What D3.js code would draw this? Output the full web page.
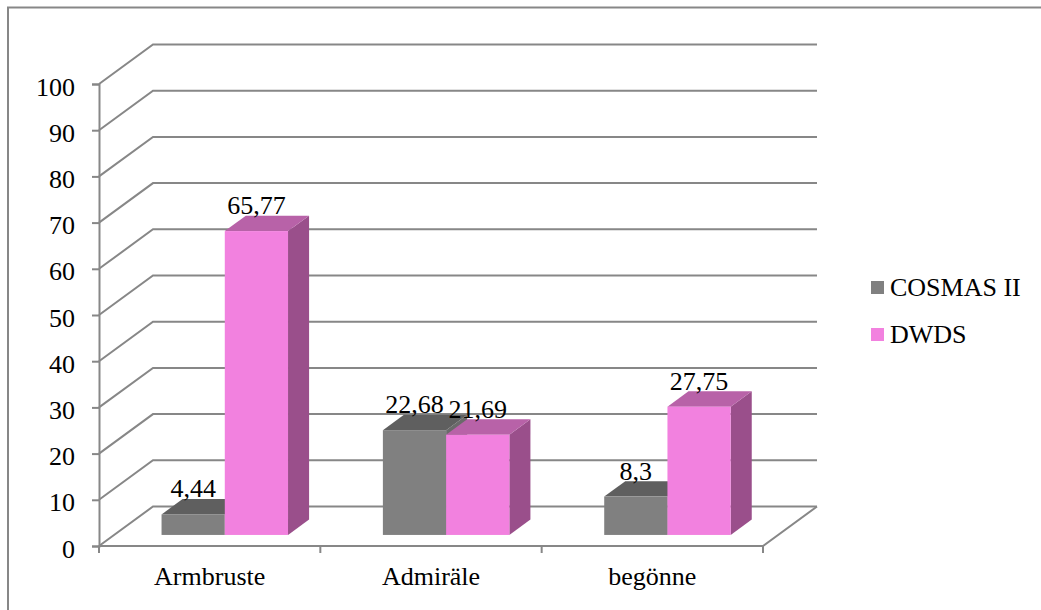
<!DOCTYPE html>
<html>
<head>
<meta charset="utf-8">
<script src="https://cdn.jsdelivr.net/npm/d3@7"></script>
<style>
  html, body { margin: 0; padding: 0; background: #fff; }
  svg text { fill: #000; }
</style>
</head>
<body>
<svg id="chart" width="1041" height="610"></svg>
<script>
// Word-form frequencies in two corpora
const categories = ["Armbruste", "Admiräle", "begönne"];
const seriesNames = ["COSMAS II", "DWDS"];
const cosmasValues = [4.44, 22.68, 8.3];
const dwdsValues = [65.77, 21.69, 27.75];
const valueLabels = [["4,44", "22,68", "8,3"], ["65,77", "21,69", "27,75"]];
const yTicks = [0, 10, 20, 30, 40, 50, 60, 70, 80, 90, 100];

const series = [cosmasValues, dwdsValues];
const serifFont = "Liberation Serif, DejaVu Serif, Noto Serif, Nimbus Roman, FreeSerif, Tinos, Times New Roman, Times, serif";

// face colours per series: front, top, side
const palette = [
  { front: "#808080", top: "#5f5f5f", side: "#6a6a6a" },
  { front: "#f281df", top: "#b862a8", side: "#9a4f8b" }
];

const svg = d3.select("#chart");
const lineColor = "#878787";

// outer frame (top and left edges)
svg.append("path")
  .attr("d", "M8,610 L8,7.5 L1041,7.5")
  .attr("fill", "none").attr("stroke", lineColor).attr("stroke-width", 2);

// front plane of the 3-D box
const front = { left: 99, right: 763, bottom: 546, top: 84 };
const depth = { dx: 54, dy: -39.5 };

const y = d3.scaleLinear().domain([0, 100]).range([front.bottom, front.top]);
const x0 = d3.scaleBand().domain(categories).range([front.left, front.right]).paddingInner(0).paddingOuter(0);

// gap width 150 % of a bar
const groupW = x0.bandwidth() * 2 / 3.5;
const x1 = d3.scaleBand().domain(seriesNames).range([0, groupW]).padding(0);

// depth position of the bars (fraction of box depth)
const barT0 = 0.28, barT1 = 0.67;
const off = t => [depth.dx * t, depth.dy * t];

const grid = svg.append("g").attr("fill", "none").attr("stroke", lineColor).attr("stroke-width", 2);

// gridlines on side wall and back wall
yTicks.forEach(v => {
  const yy = y(v);
  grid.append("path")
    .attr("d", `M${front.left},${yy} L${front.left + depth.dx},${yy + depth.dy} L${front.right + depth.dx},${yy + depth.dy}`);
});
// floor outline
grid.append("path")
  .attr("d", `M${front.left},${y(0)} L${front.right},${y(0)} L${front.right + depth.dx},${y(0) + depth.dy}`);

// value axis
const yAxis = d3.axisLeft(y).tickValues(yTicks).tickSize(7).tickPadding(17).tickFormat(d3.format("d"));
const yg = svg.append("g").attr("transform", `translate(${front.left},0)`).call(yAxis)
  .attr("font-family", serifFont).attr("font-size", 26);
yg.select(".domain").attr("stroke", lineColor).attr("stroke-width", 2);
yg.selectAll(".tick line").attr("stroke", lineColor).attr("stroke-width", 2);
yg.selectAll(".tick text").attr("dy", 11).attr("font-family", serifFont).attr("font-size", 26);

// category axis ticks at band boundaries
const bounds = categories.map(c => x0(c)).concat([front.right]);
svg.append("g").selectAll("line").data(bounds).join("line")
  .attr("x1", d => d).attr("x2", d => d)
  .attr("y1", y(0)).attr("y2", y(0) + 7)
  .attr("stroke", lineColor).attr("stroke-width", 2);

svg.append("g").selectAll("text").data(categories).join("text")
  .attr("x", d => x0(d) + x0.bandwidth() / 2)
  .attr("y", 585)
  .attr("text-anchor", "middle")
  .attr("font-family", serifFont).attr("font-size", 26)
  .text(d => d);

// bars
const [fx, fy] = off(barT0);
const [bx, by] = off(barT1);
const ddx = bx - fx, ddy = by - fy;
const bars = svg.append("g");
const labels = svg.append("g");

categories.forEach((cat, ci) => {
  series.forEach((vals, si) => {
    const v = vals[ci];
    const left = x0(cat) + (x0.bandwidth() - groupW) / 2 + x1(seriesNames[si]) + fx;
    const w = x1.bandwidth();
    const bottom = y(0) + fy;
    const top = y(v) + fy;
    const c = palette[si];
    const g = bars.append("g");
    // side face
    g.append("path")
      .attr("d", `M${left + w},${bottom} L${left + w + ddx},${bottom + ddy} L${left + w + ddx},${top + ddy} L${left + w},${top} Z`)
      .attr("fill", c.side);
    // top face
    g.append("path")
      .attr("d", `M${left},${top} L${left + ddx},${top + ddy} L${left + w + ddx},${top + ddy} L${left + w},${top} Z`)
      .attr("fill", c.top);
    // front face
    g.append("rect")
      .attr("x", left).attr("y", top)
      .attr("width", w).attr("height", bottom - top)
      .attr("fill", c.front);

    labels.append("text")
      .attr("x", left + w / 2)
      .attr("y", top - 17)
      .attr("text-anchor", "middle")
      .attr("font-family", serifFont).attr("font-size", 26)
      .text(valueLabels[si][ci]);
  });
});

// legend
const legend = svg.append("g");
seriesNames.forEach((name, i) => {
  const ly = 281 + i * 47;
  legend.append("rect")
    .attr("x", 871).attr("y", ly).attr("width", 13).attr("height", 13)
    .attr("fill", palette[i].front);
  legend.append("text")
    .attr("x", 890).attr("y", ly + 15)
    .attr("font-family", serifFont).attr("font-size", 26)
    .text(name);
});
</script>
</body>
</html>
